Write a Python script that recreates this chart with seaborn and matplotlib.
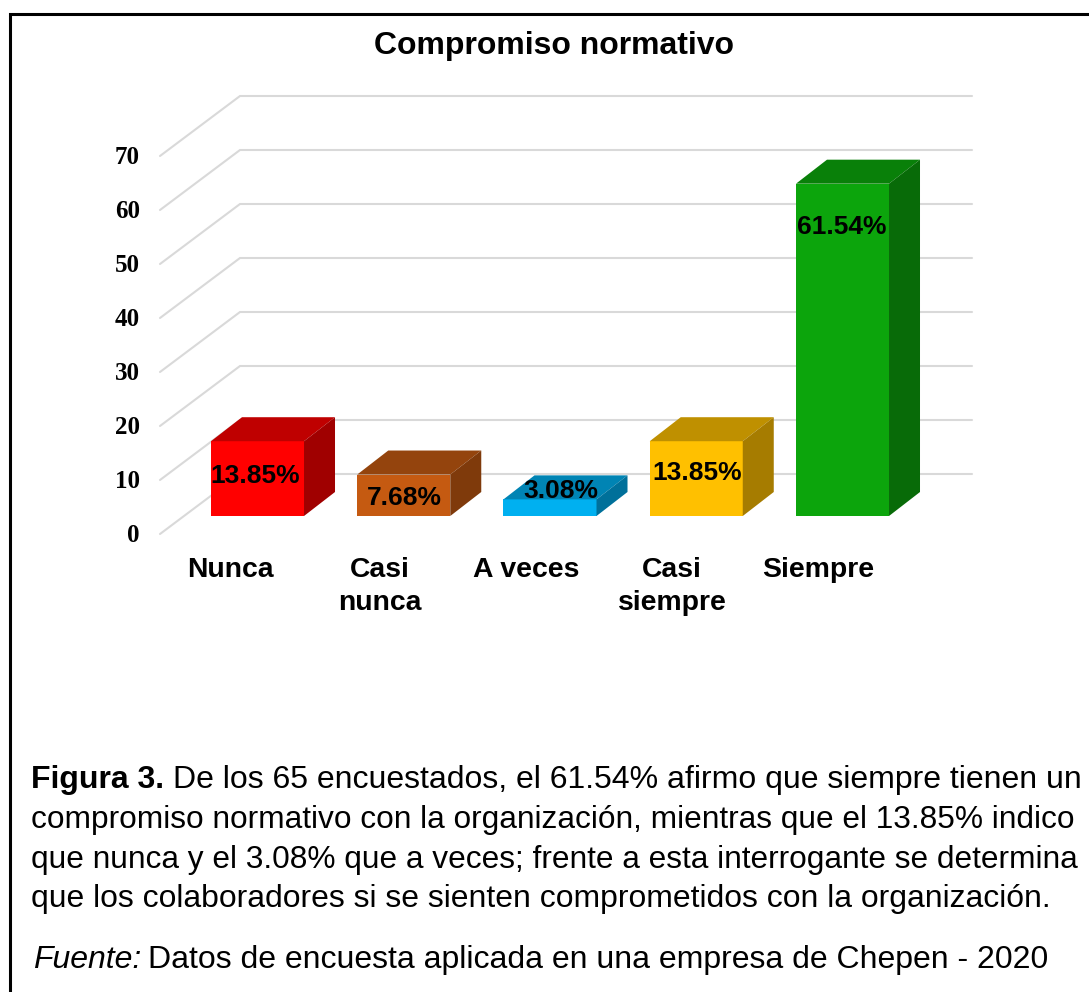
import numpy as np
import pandas as pd
import matplotlib
matplotlib.use("Agg")
import matplotlib.pyplot as plt
from matplotlib.lines import Line2D
import seaborn as sns

categories = ["Nunca", "Casi\nnunca", "A veces", "Casi\nsiempre", "Siempre"]
values = [13.85, 7.68, 3.08, 13.85, 61.54]
value_labels = ["13.85%", "7.68%", "3.08%", "13.85%", "61.54%"]
y_ticks = [0, 10, 20, 30, 40, 50, 60, 70]
front_colors = ["#ff0000", "#c55a11", "#00b0f0", "#ffc000", "#0ca50c"]
top_colors = ["#bf0000", "#94440d", "#0084b4", "#bf9000", "#098009"]
side_colors = ["#a00000", "#7f3a0b", "#00709a", "#a67c00", "#086b08"]

# pixel geometry of the picture
W, H = 1089, 992
X0, XSTEP = 257.5, 146.25   # first bar centre, bar spacing
Y0, YSCALE = 516.0, 5.4     # bar base, px per unit

# where the value labels sit, in px
label_x = [255, 404, 561, 697, 842]
label_y = [476, 498, 491, 473, 227]
name_x = [230, 380, 526, 672, 818]

sns.set_theme(style="white")
plt.rcParams["font.family"] = ["Liberation Sans", "DejaVu Sans"]


def px_x(x):
    return (x - X0) / XSTEP


def px_y(y):
    return (Y0 - y) / YSCALE


fig = plt.figure(figsize=(W / 100, H / 100), dpi=100)
ax = fig.add_axes([0, 0, 1, 1])

df = pd.DataFrame({"categoria": categories, "valor": values})
sns.barplot(data=df, x="categoria", y="valor", hue="categoria", palette=front_colors,
            width=0.636, legend=False, saturation=1, ax=ax, zorder=3)
ax.set_xlim(px_x(0), px_x(W))
ax.set_ylim(px_y(H), px_y(0))
ax.axis("off")

# walls: back gridline plus the diagonal going to the front
depth_x = px_x(240) - px_x(160)
depth_y = 60 / YSCALE
back_x0, back_x1 = px_x(240), px_x(972)
back_base = px_y(474)
for t in y_ticks:
    yb = back_base + t
    ax.plot([back_x0 - depth_x, back_x0, back_x1], [yb - depth_y, yb, yb],
            color="#d9d9d9", lw=1.5, zorder=1, solid_joinstyle="miter")
    ax.text(px_x(140), yb - depth_y - 1.5 / YSCALE, str(t), ha="right", va="center",
            family="Liberation Serif", fontweight="bold", fontsize=18, color="black")

# 3d faces on top of the bars seaborn drew
bar_dx = 31 / XSTEP
bar_dy = 24 / YSCALE
for i, bar in enumerate(ax.patches):
    x0 = bar.get_x()
    x1 = x0 + bar.get_width()
    h = bar.get_height()
    bar.set_edgecolor("none")
    ax.fill([x0, x1, x1 + bar_dx, x0 + bar_dx], [h, h, h + bar_dy, h + bar_dy],
            color=top_colors[i], lw=0, zorder=3)
    ax.fill([x1, x1 + bar_dx, x1 + bar_dx, x1], [0, bar_dy, h + bar_dy, h],
            color=side_colors[i], lw=0, zorder=3)
    ax.text(px_x(label_x[i]), px_y(label_y[i]), value_labels[i], ha="center", va="center",
            fontweight="bold", fontsize=19, color="black", zorder=5)

# category names sit left of their bars
for i, name in enumerate(categories):
    for j, line in enumerate(name.split("\n")):
        ax.text(px_x(name_x[i]), px_y(570 + 33 * j), line, ha="center", va="center",
                fontweight="bold", fontsize=20.4, color="black")

ax.text(px_x(554), px_y(46), "Compromiso normativo", ha="center", va="center",
        fontweight="bold", fontsize=23, color="black")

# caption, the lines are justified in the original so sizes differ a bit
ax.text(px_x(31), px_y(788), "Figura 3.", fontweight="bold", fontsize=23, color="black", va="baseline")
ax.text(px_x(173), px_y(788), "De los 65 encuestados, el 61.54% afirmo que siempre tienen un",
        fontsize=23, color="black", va="baseline")
ax.text(px_x(31), px_y(828), "compromiso normativo con la organización, mientras que el 13.85% indico",
        fontsize=22.8, color="black", va="baseline")
ax.text(px_x(31), px_y(868), "que nunca y el 3.08% que a veces; frente a esta interrogante se determina",
        fontsize=22.8, color="black", va="baseline")
ax.text(px_x(31), px_y(907), "que los colaboradores si se sienten comprometidos con la organización.",
        fontsize=22.95, color="black", va="baseline")
ax.text(px_x(33), px_y(968), "Fuente:", fontstyle="italic", fontsize=23, color="black", va="baseline")
ax.text(px_x(148), px_y(968), "Datos de encuesta aplicada en una empresa de Chepen - 2020",
        fontsize=23, color="black", va="baseline")

# frame: only left and top are visible in the picture
fig.add_artist(Line2D([9.5 / W, 9.5 / W, 1], [0, 1 - 14 / H, 1 - 14 / H], transform=fig.transFigure,
                      color="black", lw=2.2, solid_joinstyle="miter"))

fig.savefig("out.png", dpi=100)
